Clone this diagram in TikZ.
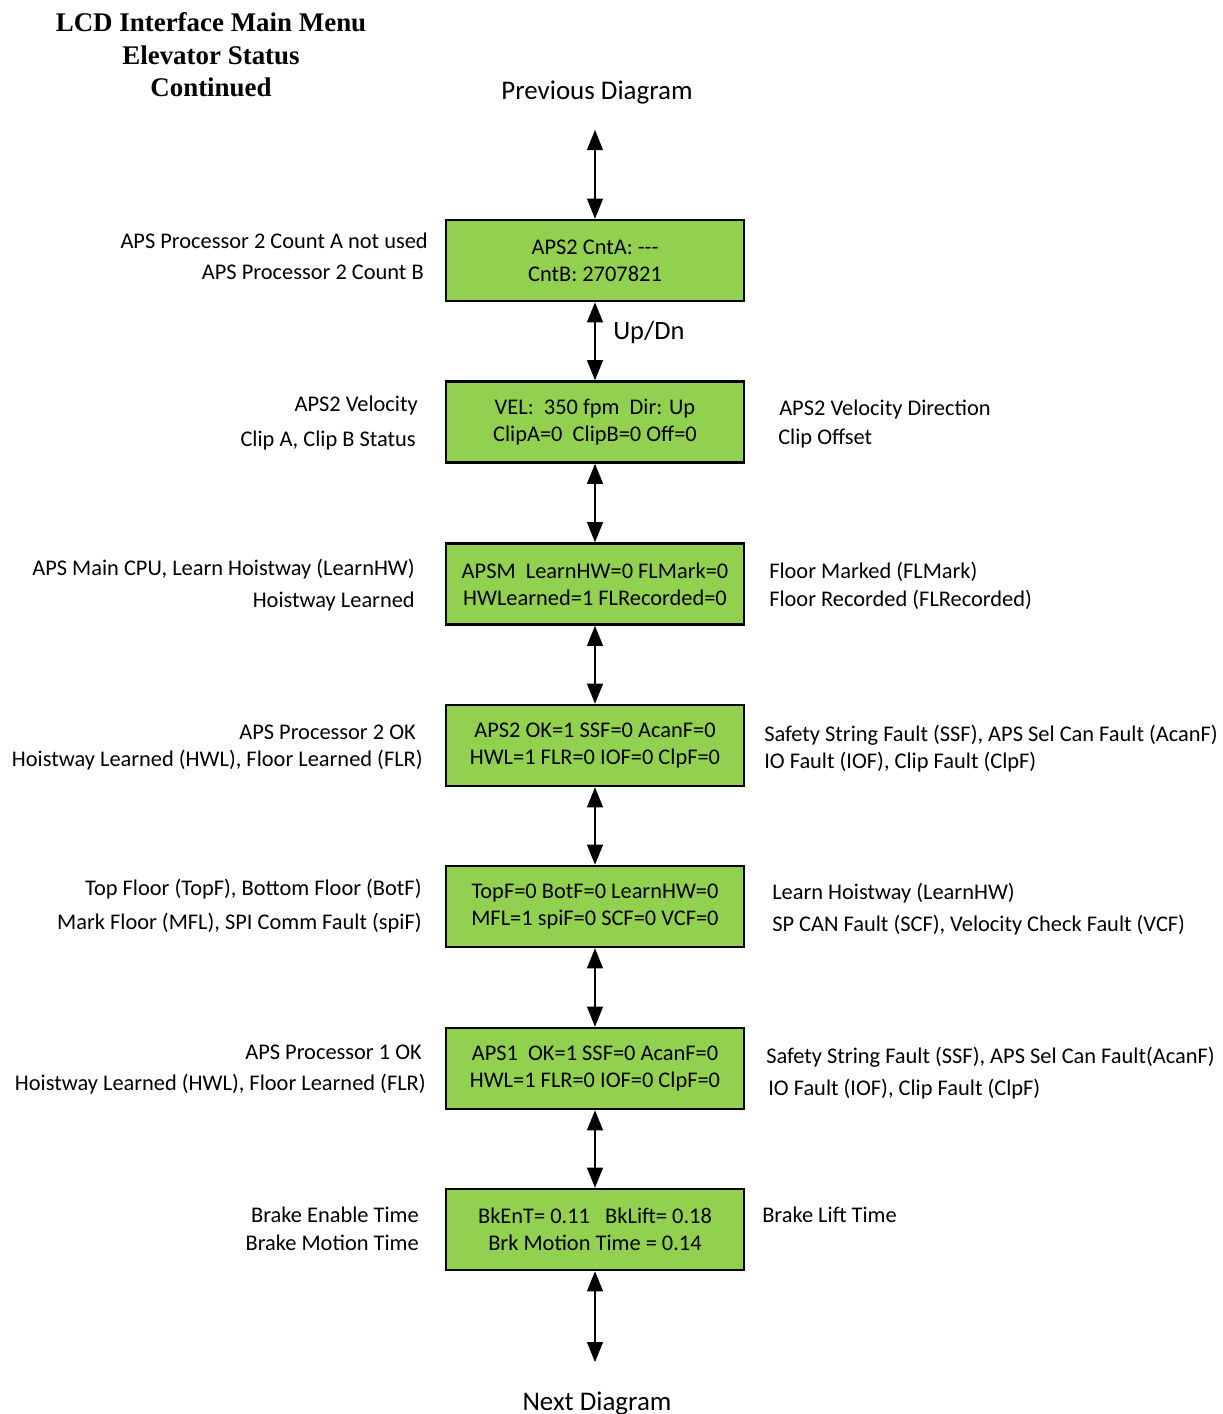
\documentclass[tikz,border=0pt]{standalone}
\usepackage{fontspec}
\setmainfont{Carlito}
\newfontfamily\titlefont{Liberation Serif}
\usetikzlibrary{arrows.meta}
\begin{document}
\begin{tikzpicture}[x=0.75pt,y=-0.75pt,
  lbl/.style={inner sep=0pt,font=\fontsize{16.8}{20}\selectfont},
  lblR/.style={lbl,anchor=base east},
  lblL/.style={lbl,anchor=base west},
  lcd/.style={draw=black,line width=2pt,fill=lcdgreen,minimum width=223.5pt,minimum height=60.75pt,
     align=center,inner sep=0pt,font=\fontsize{16.8}{20}\selectfont},
  conn/.style={line width=0.8pt,{Triangle[length=15pt,width=12pt]}-{Triangle[length=15pt,width=12pt]}},
  ttl/.style={inner sep=0pt,anchor=base,font=\titlefont\bfseries\fontsize{20.2}{24}\selectfont},
  big/.style={inner sep=0pt,anchor=base,font=\fontsize{20.2}{24}\selectfont}]
\definecolor{lcdgreen}{HTML}{92D050}
\useasboundingbox (0,0) rectangle (1222,1414);

% title
\node[ttl] (t1) at (211,31) {LCD Interface Main Menu};
\node[ttl] (t2) at (211,64) {Elevator Status};
\node[ttl] (t3) at (211,96) {Continued};

\node[big] (prev) at (597,99) {Previous Diagram};
\node[big] (next) at (597,1410) {Next Diagram};
\coordinate (ptop) at (595,130);
\coordinate (pbot) at (595,1362);

% boxes
\node[lcd] (b1) at (595,260.5) {APS2 CntA: -{}-{}-\\CntB: 2707821};
\node[lcd] (b2) at (595,422) {VEL:\ \ 350 fpm\ \ Dir: Up\\ClipA=0\ \ ClipB=0 Off=0};
\node[lcd] (b3) at (595,584) {APSM\ \ LearnHW=0 FLMark=0\\HWLearned=1 FLRecorded=0};
\node[lcd] (b4) at (595,745.5) {APS2 OK=1 SSF=0 AcanF=0\\HWL=1 FLR=0 IOF=0 ClpF=0};
\node[lcd] (b5) at (595,906.5) {TopF=0 BotF=0 LearnHW=0\\MFL=1 spiF=0 SCF=0 VCF=0};
\node[lcd] (b6) at (595,1068.5) {APS1\ \ OK=1 SSF=0 AcanF=0\\HWL=1 FLR=0 IOF=0 ClpF=0};
\node[lcd] (b7) at (595,1229.5) {BkEnT= 0.11\ \ \ BkLift= 0.18\\Brk Motion Time = 0.14};

% connectors
\draw[conn] (ptop) -- (b1.north);
\draw[conn] (b1.south) -- (b2.north);
\draw[conn] (b2.south) -- (b3.north);
\draw[conn] (b3.south) -- (b4.north);
\draw[conn] (b4.south) -- (b5.north);
\draw[conn] (b5.south) -- (b6.north);
\draw[conn] (b6.south) -- (b7.north);
\draw[conn] (b7.south) -- (pbot);

\node[lblL,font=\fontsize{19.8}{22}\selectfont] (updn) at (613,339) {Up/Dn};

% left labels
\node[lblR] (l1a) at (428,248) {APS Processor 2 Count A not used};
\node[lblR] (l1b) at (424,279) {APS Processor 2 Count B};
\node[lblR] (l2a) at (418,411) {APS2 Velocity};
\node[lblR] (l2b) at (416,446) {Clip A, Clip B Status};
\node[lblR] (l3a) at (415,575) {APS Main CPU, Learn Hoistway (LearnHW)};
\node[lblR] (l3b) at (415,607) {Hoistway Learned};
\node[lblR] (l4a) at (416,739) {APS Processor 2 OK};
\node[lblR] (l4b) at (423,766) {Hoistway Learned (HWL), Floor Learned (FLR)};
\node[lblR] (l5a) at (422,895) {Top Floor (TopF), Bottom Floor (BotF)};
\node[lblR] (l5b) at (422,929) {Mark Floor (MFL), SPI Comm Fault (spiF)};
\node[lblR] (l6a) at (422,1059) {APS Processor 1 OK};
\node[lblR] (l6b) at (426,1090) {Hoistway Learned (HWL), Floor Learned (FLR)};
\node[lblR] (l7a) at (419,1222) {Brake Enable Time};
\node[lblR] (l7b) at (419,1250) {Brake Motion Time};

% right labels
\node[lblL] (r2a) at (779,415) {APS2 Velocity Direction};
\node[lblL] (r2b) at (778,444) {Clip Offset};
\node[lblL] (r3a) at (769,578) {Floor Marked (FLMark)};
\node[lblL] (r3b) at (769,606) {Floor Recorded (FLRecorded)};
\node[lblL] (r4a) at (764,741) {Safety String Fault (SSF), APS Sel Can Fault (AcanF)};
\node[lblL] (r4b) at (764,768) {IO Fault (IOF), Clip Fault (ClpF)};
\node[lblL] (r5a) at (772,899) {Learn Hoistway (LearnHW)};
\node[lblL] (r5b) at (772,931) {SP CAN Fault (SCF), Velocity Check Fault (VCF)};
\node[lblL] (r6a) at (766,1063) {Safety String Fault (SSF), APS Sel Can Fault(AcanF)};
\node[lblL] (r6b) at (768,1095) {IO Fault (IOF), Clip Fault (ClpF)};
\node[lblL] (r7a) at (762,1222) {Brake Lift Time};
\end{tikzpicture}
\end{document}
